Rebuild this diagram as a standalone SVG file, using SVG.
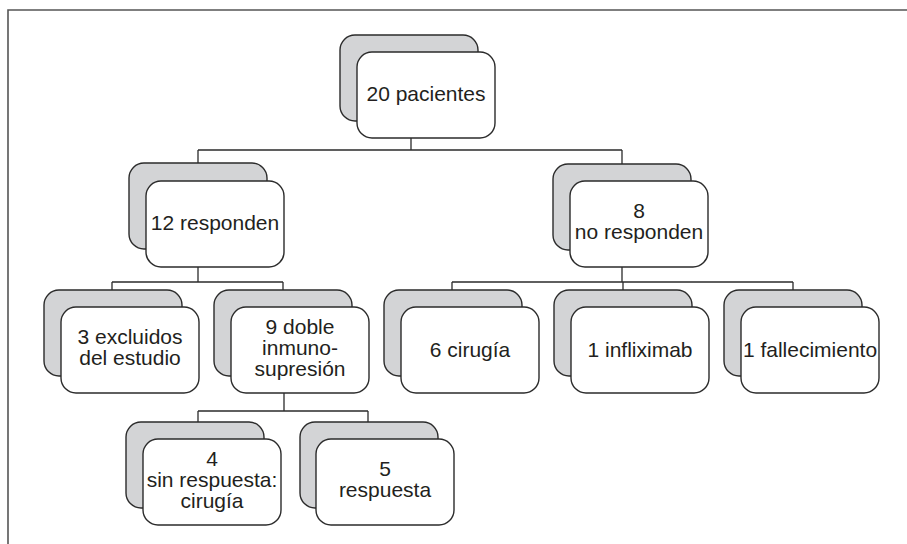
<svg xmlns="http://www.w3.org/2000/svg" width="907" height="544" viewBox="0 0 907 544">
<style>
.bk{fill:#d3d4d6;stroke:#2b2b2b;stroke-width:1.4}
.fr{fill:#ffffff;stroke:#2b2b2b;stroke-width:1.4}
.t{font-family:"Liberation Sans",Arial,sans-serif;font-size:21px;fill:#231f20;text-anchor:middle}
.c{fill:none;stroke:#2b2b2b;stroke-width:1.3}
.frame{fill:none;stroke:#555;stroke-width:1.6}
</style>
<rect width="907" height="544" fill="#fff"/>
<path class="frame" d="M8,544 V10 H907"/>
<g id="connectors">
<path class="c" d="M411,138 V150 M198,150 H622 M198,150 V163 M622,150 V164"/>
<path class="c" d="M198,267 V282 M112,282 H283 M112,282 V290 M283,282 V290"/>
<path class="c" d="M622,267 V282 M452,282 H793 M452,282 V290 M623,282 V290 M793,282 V290"/>
<path class="c" d="M284,393 V411 M198,411 H368 M198,411 V422 M368,411 V422"/>
</g>
<g id="n20">
<rect class="bk" x="340" y="35" width="138" height="86" rx="15"/>
<rect class="fr" x="357" y="52" width="138" height="86" rx="15"/>
<text class="t" x="426" y="101">20 pacientes</text>
</g>
<g id="n12">
<rect class="bk" x="129" y="163" width="138" height="86" rx="15"/>
<rect class="fr" x="146" y="181" width="138" height="86" rx="15"/>
<text class="t" x="215" y="230">12 responden</text>
</g>
<g id="n8">
<rect class="bk" x="553" y="164" width="138" height="86" rx="15"/>
<rect class="fr" x="570" y="181" width="138" height="86" rx="15"/>
<text class="t" x="639" y="218">8</text>
<text class="t" x="639" y="239">no responden</text>
</g>
<g id="n3">
<rect class="bk" x="44" y="290" width="138" height="86" rx="15"/>
<rect class="fr" x="61" y="307" width="138" height="86" rx="15"/>
<text class="t" x="130" y="344">3 excluidos</text>
<text class="t" x="130" y="365">del estudio</text>
</g>
<g id="n9">
<rect class="bk" x="214" y="290" width="138" height="86" rx="15"/>
<rect class="fr" x="231" y="307" width="138" height="86" rx="15"/>
<text class="t" x="300" y="334">9 doble</text>
<text class="t" x="300" y="355">inmuno-</text>
<text class="t" x="300" y="376">supresión</text>
</g>
<g id="n6">
<rect class="bk" x="384" y="290" width="138" height="86" rx="15"/>
<rect class="fr" x="401" y="307" width="138" height="86" rx="15"/>
<text class="t" x="470" y="357">6 cirugía</text>
</g>
<g id="n1i">
<rect class="bk" x="554" y="290" width="138" height="86" rx="15"/>
<rect class="fr" x="571" y="307" width="138" height="86" rx="15"/>
<text class="t" x="640" y="357">1 infliximab</text>
</g>
<g id="n1f">
<rect class="bk" x="724" y="290" width="138" height="86" rx="15"/>
<rect class="fr" x="741" y="307" width="138" height="86" rx="15"/>
<text class="t" x="810" y="357">1 fallecimiento</text>
</g>
<g id="n4">
<rect class="bk" x="126" y="422" width="138" height="86" rx="15"/>
<rect class="fr" x="143" y="439" width="138" height="86" rx="15"/>
<text class="t" x="212" y="466">4</text>
<text class="t" x="212" y="487">sin respuesta:</text>
<text class="t" x="212" y="508">cirugía</text>
</g>
<g id="n5">
<rect class="bk" x="300" y="422" width="138" height="86" rx="15"/>
<rect class="fr" x="316" y="439" width="138" height="86" rx="15"/>
<text class="t" x="385" y="476">5</text>
<text class="t" x="385" y="497">respuesta</text>
</g>
</svg>
